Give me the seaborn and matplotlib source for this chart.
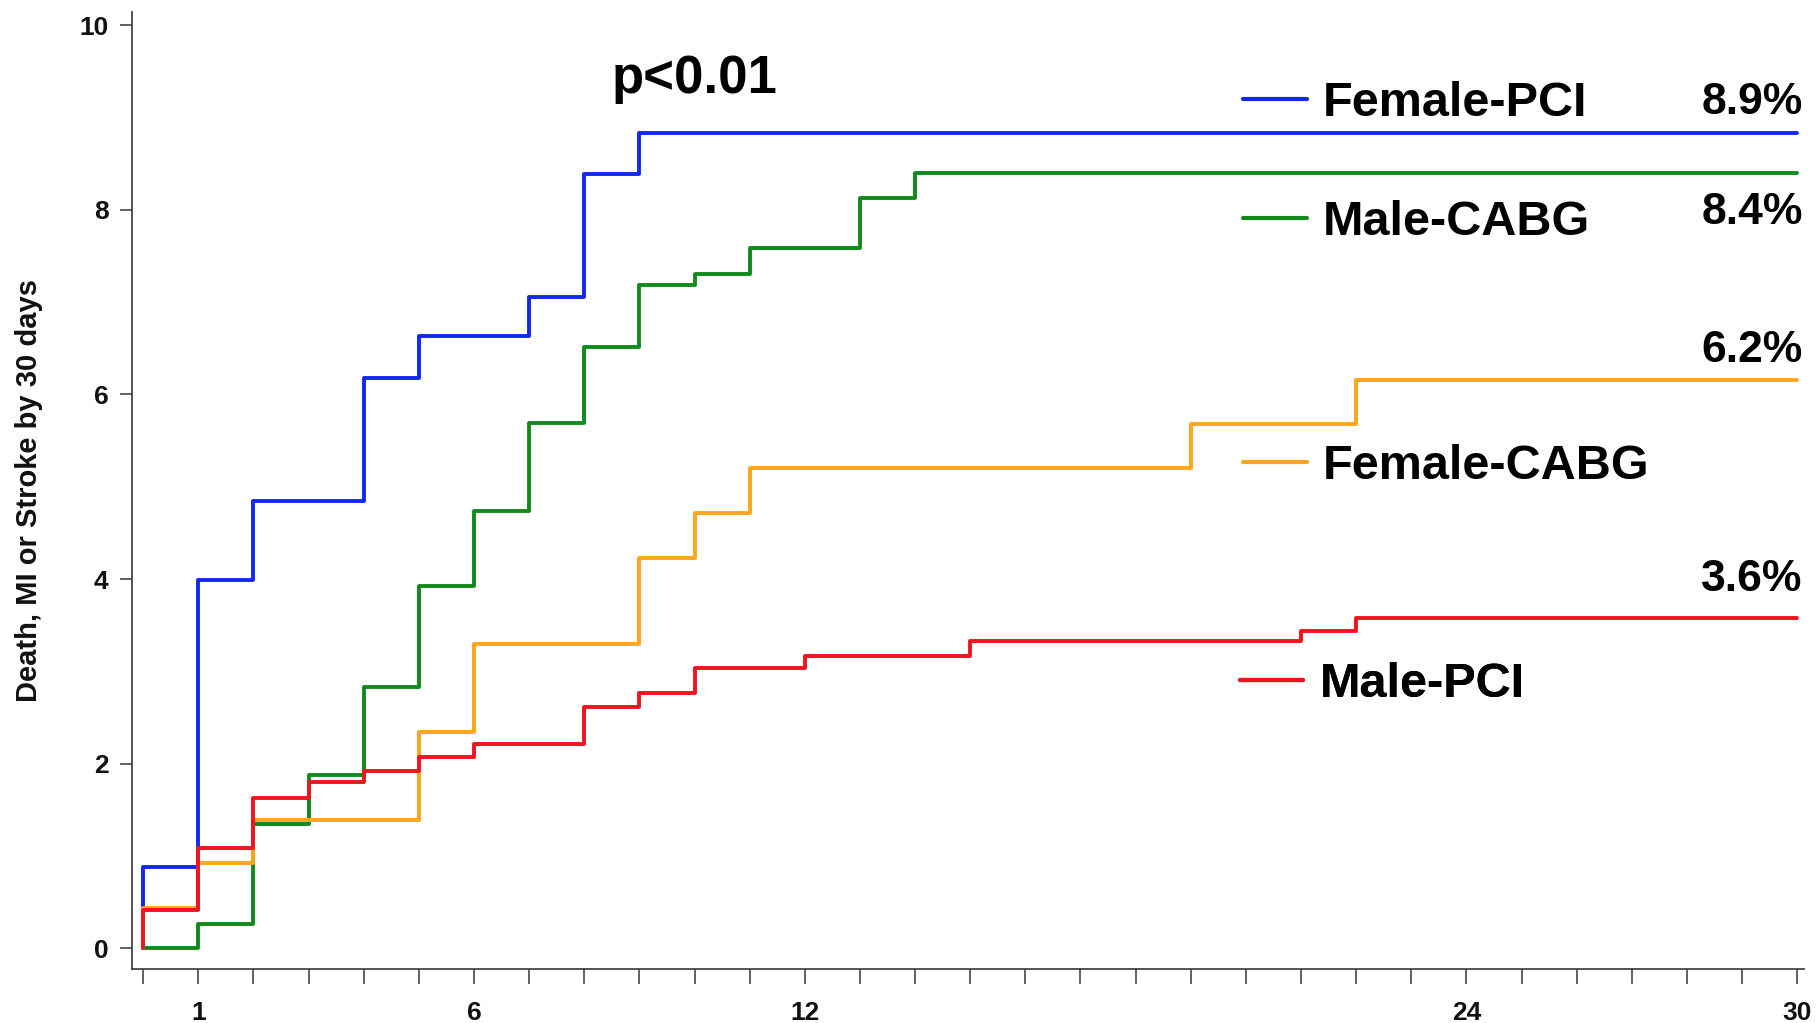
import matplotlib
matplotlib.use("Agg")
import matplotlib.pyplot as plt
from matplotlib.lines import Line2D
import seaborn as sns
import pandas as pd
import numpy as np

# ---- data ----
groups = ["Female-PCI", "Male-CABG", "Female-CABG", "Male-PCI"]
final_labels = ["8.9%", "8.4%", "6.2%", "3.6%"]

fpci_days = [0, 0, 1, 2, 4, 5, 7, 8, 9, 30]
fpci_vals = [0, 0.88, 3.99, 4.85, 6.18, 6.63, 7.06, 8.39, 8.83, 8.83]

mcabg_days = [0, 1, 2, 3, 4, 5, 6, 7, 8, 9, 10, 11, 13, 14, 30]
mcabg_vals = [0, 0.26, 1.34, 1.88, 2.83, 3.92, 4.74, 5.69, 6.51, 7.19, 7.31, 7.59, 8.13, 8.40, 8.40]

fcabg_days = [0, 0, 1, 2, 5, 6, 9, 10, 11, 19, 22, 30]
fcabg_vals = [0, 0.44, 0.92, 1.39, 2.34, 3.30, 4.23, 4.72, 5.20, 5.68, 6.16, 6.16]

mpci_days = [0, 0, 1, 2, 3, 4, 5, 6, 8, 9, 10, 12, 15, 21, 22, 30]
mpci_vals = [0, 0.41, 1.09, 1.63, 1.80, 1.92, 2.07, 2.21, 2.61, 2.76, 3.04, 3.17, 3.33, 3.44, 3.58, 3.58]

x_ticks = list(range(0, 31))
x_labeled = [1, 6, 12, 24, 30]
y_ticks = [0, 2, 4, 6, 8, 10]

colors = {"Female-PCI": "#1028f0", "Male-CABG": "#118a1c",
          "Female-CABG": "#ffa51c", "Male-PCI": "#f0141e"}

frames = []
for g, d, v in [("Female-PCI", fpci_days, fpci_vals),
                ("Male-CABG", mcabg_days, mcabg_vals),
                ("Female-CABG", fcabg_days, fcabg_vals),
                ("Male-PCI", mpci_days, mpci_vals)]:
    frames.append(pd.DataFrame({"day": d, "risk": v, "group": g}))
df = pd.concat(frames, ignore_index=True)

sns.set_theme(style="white")
plt.rcParams["font.family"] = ["Liberation Sans", "DejaVu Sans"]
plt.rcParams["font.weight"] = "bold"

fig = plt.figure(figsize=(18.17, 10.23), dpi=100)
ax = fig.add_axes([0.0727, 0.0528, 0.9201, 0.9359])

for g in groups:
    sub = df[df["group"] == g]
    sns.lineplot(data=sub, x="day", y="risk", color=colors[g], drawstyle="steps-post",
                 sort=False, estimator=None, lw=2.8, ax=ax, legend=False)

ax.set_xlim(-0.2, 30.12)
ax.set_ylim(-0.226, 10.15)

ax.set_xticks(x_ticks)
ax.set_xticklabels([str(t) if t in x_labeled else "" for t in x_ticks])
ax.set_yticks(y_ticks)
ax.set_yticklabels([str(t) for t in y_ticks])
ax.tick_params(axis="x", direction="out", length=11, width=1.3, color="#555555",
               labelsize=19, pad=12, bottom=True, labelcolor="#111111")
ax.tick_params(axis="y", direction="out", length=9, width=1.3, color="#555555",
               labelsize=19, pad=8, left=True, labelcolor="#111111")
for lab in ax.get_xticklabels() + ax.get_yticklabels():
    lab.set_fontweight("bold")

for s in ["top", "right"]:
    ax.spines[s].set_visible(False)
for s in ["left", "bottom"]:
    ax.spines[s].set_color("#444444")
    ax.spines[s].set_linewidth(1.3)

ax.set_xlabel("")
ax.set_ylabel("Death, MI or Stroke by 30 days", fontsize=21, fontweight="bold", color="#111111")
ax.yaxis.set_label_coords(-0.053, 0.5)

# separate legend entries placed next to their curves
legend_pos = {"Female-PCI": 0.904, "Male-CABG": 0.780, "Female-CABG": 0.525, "Male-PCI": 0.297}
legend_x = {"Female-PCI": 0.6646, "Male-CABG": 0.6646, "Female-CABG": 0.6646, "Male-PCI": 0.6625}
for g in groups:
    h = Line2D([], [], color=colors[g], lw=3.0)
    leg = ax.legend([h], [g], loc="center left", bbox_to_anchor=(legend_x[g], legend_pos[g]),
                    frameon=False, handlelength=1.31, handletextpad=0.33,
                    borderaxespad=0, borderpad=0,
                    prop={"weight": "bold", "size": 35})
    for t in leg.get_texts():
        t.set_color("#000000")
    ax.add_artist(leg)

pct_y = [9.16, 7.97, 6.48, 4.0]
for lab, y in zip(final_labels, pct_y):
    ax.text(30.1, y, lab, ha="right", va="center", fontsize=32, fontweight="bold", color="#000000")

ax.text(8.5, 9.42, "p<0.01", ha="left", va="center", fontsize=38, fontweight="bold", color="#000000")

fig.savefig("out.png", dpi=100)
